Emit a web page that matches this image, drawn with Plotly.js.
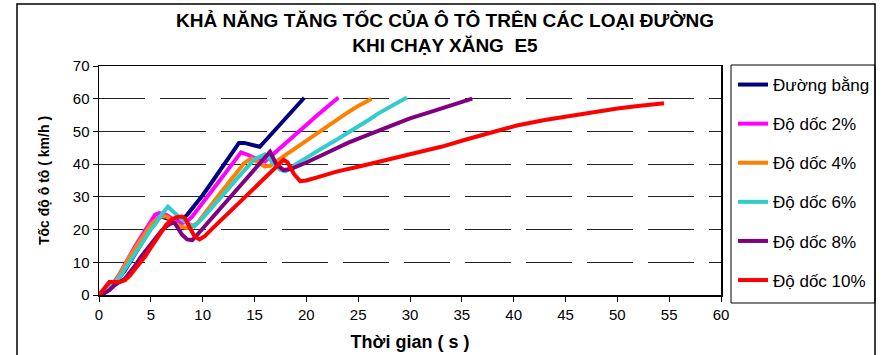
<!DOCTYPE html>
<html>
<head>
<meta charset="utf-8">
<script src="https://cdn.plot.ly/plotly-3.0.1.min.js"></script>
<style>html,body{margin:0;padding:0;background:#fff;}#chart{width:888px;height:355px;}</style>
</head>
<body>
<div id="chart"></div>
<script>
// ---- Data ----
const seriesNames = ["Đường bằng", "Độ dốc 2%", "Độ dốc 4%", "Độ dốc 6%", "Độ dốc 8%", "Độ dốc 10%"];
const seriesColors = ["#000080", "#FF00FF", "#FF8000", "#33CCCC", "#800080", "#FF0000"];

const flatT = [0,0.5,1,1.5,2,2.5,3,3.5,4,4.5,5,5.5,6,6.5,7,7.5,8,8.5,9,10,11,12,13,13.5,14,15,15.5,16,17,18,19,19.8];
const flatV = [0,1,2.5,4,5.5,7.5,10,12.5,15,18,20.5,23,24,23.5,23,22.5,23,24.5,26.5,30.5,35,39.5,44,46.5,46.5,45.5,45.3,47,50.5,54,57.5,60.3];

const g2T = [0,0.5,1,1.5,2,2.5,3,3.5,4,4.5,5,5.4,5.8,6.5,7,7.5,8,8.5,9,10,11,12,13,13.7,14.4,15.2,16,17,18,19,20,21,22,23.1];
const g2V = [0,1,2.5,4,6.5,9.5,12.5,15,17.5,20,22.5,24.5,25,24.5,23.5,22.5,22,22.5,24,28,32.3,36.5,40.8,43.6,42.8,41.6,40.8,43.5,46.3,49.2,52,54.8,57.6,60.4];

const g4T = [0,0.5,1,1.5,2,2.5,3,3.5,4,4.5,5,5.5,6,6.5,7,7.5,8,8.5,9,9.5,10,11,12,13,14,14.7,15.3,16,16.5,17,18,19,20,21,22,23,24,25,26.3];
const g4V = [0,1,2,3.5,6,9,12,14.5,17,19.5,21.5,23,24,24,23,21.5,20.8,20.5,21,22,24.2,28.3,32.3,36.3,40.3,41.8,40.5,39.3,39.5,40.5,42.8,45,47.2,49.4,51.6,53.8,55.8,57.8,60];

const g6T = [0,0.5,1,1.5,2,2.5,3,3.5,4,4.5,5,5.5,6,6.65,7,7.5,8,8.5,9.2,10,11,12,13,14,15,16,16.5,17,17.5,18,19,20,21,22,23,24,25,26,27,28,29,29.7];
const g6V = [0,0.8,2,3.5,5.5,8,10.5,13,15.5,18,20,22,24.5,27,26,24.5,23,22,21,23.5,27.2,30.8,34.5,38,41.5,43,41.5,39.5,38.3,37.8,40,42,44,45.8,47.6,49.5,51.4,53.5,55.6,57.4,59.2,60.4];

const g8T = [0,0.5,1,1.5,2,2.5,3,3.5,4,4.5,5,5.5,6,6.5,7,7.3,7.6,8,8.5,9,9.5,10,11,12,13,14,15,16,16.5,17.1,17.8,18.5,19.5,20,22,24,26,28,30,32,34,36];
const g8V = [0,0.5,1.5,3,4,5,7,9,11.5,13.5,15.5,17.5,19.5,21,22,22,20.5,18.5,17,16.8,18.5,20.3,23.8,27.4,31,34.6,38.2,41.8,43.8,40,38.2,38.5,39.8,40.5,43.5,46.5,49,51.5,54,56,58,60];

const g10T = [0,0.5,1,1.5,2,2.5,3,3.5,4,4.5,5,5.5,6,6.5,7,7.5,8,8.3,8.7,9.2,9.7,10.2,11,12,13,14,15,16,17,17.8,18.2,18.8,19.4,20,21.3,23,25,27,30,33,35.5,38,40.3,43,46.7,50,52,54.5];
const g10V = [0,2,4,4,4,4.5,6,8,10,12,14.5,17,19.5,21.5,23,23.8,24,23.5,21,18,17,18,20.5,23.6,26.6,29.7,32.8,35.8,38.9,41.3,40.5,37,34.8,35,36.2,37.8,39.2,40.7,42.9,45.3,47.6,49.9,51.8,53.5,55.5,57,57.8,58.6];

const seriesT = [flatT, g2T, g4T, g6T, g8T, g10T];
const seriesV = [flatV, g2V, g4V, g6V, g8V, g10V];

const xTicks = [0,5,10,15,20,25,30,35,40,45,50,55,60];
const yTicks = [0,10,20,30,40,50,60,70];

const titleText = "<b>KHẢ NĂNG TĂNG TỐC CỦA Ô TÔ TRÊN CÁC LOẠI ĐƯỜNG<br>KHI CHẠY XĂNG  E5</b>";
const xTitle = "<b>Thời gian ( s )</b>";
const yTitle = "<b>Tốc độ ô tô ( km/h )</b>";

// ---- Build traces ----
const traces = seriesNames.map((name, i) => ({
  type: "scatter",
  mode: "lines",
  name: name,
  x: seriesT[i],
  y: seriesV[i],
  line: { color: seriesColors[i], width: 4 },
  legendgroup: "g" + i
}));

// plot area pixels: x 99..721, y 66..295
const L = 99, R = 721, T = 66, B = 295;
const px = v => (v - L) / (R - L);
const py = v => (B - v) / (B - T);

const font = "Liberation Sans, Arial, sans-serif";

const layout = {
  width: 888, height: 355,
  margin: { l: L, r: 888 - R, t: T, b: 355 - B, pad: 0 },
  paper_bgcolor: "#ffffff",
  plot_bgcolor: "#ffffff",
  font: { family: font, color: "#000", size: 15 },
  xaxis: {
    range: [0, 60],
    tickvals: xTicks,
    ticktext: xTicks.map(String),
    ticks: "outside", ticklen: 5, tickcolor: "#000", tickwidth: 1,
    showline: true, linecolor: "#000", linewidth: 1.5, mirror: true,
    showgrid: false, zeroline: false,
    tickfont: { family: font, size: 15 },
    title: { text: xTitle, font: { family: font, size: 18 }, standoff: 14 }
  },
  yaxis: {
    range: [0, 70],
    tickvals: yTicks,
    ticktext: yTicks.map(String),
    ticks: "outside", ticklen: 5, tickcolor: "#000", tickwidth: 1,
    showline: true, linecolor: "#000", linewidth: 1.5, mirror: true,
    showgrid: true, gridcolor: "#222", gridwidth: 1, griddash: "46px,15px",
    zeroline: false,
    tickfont: { family: font, size: 15 },
    title: { text: yTitle, font: { family: font, size: 14 }, standoff: 20 }
  },
  showlegend: true,
  legend: {
    x: px(733), xanchor: "left",
    y: py(67), yanchor: "top",
    bgcolor: "rgba(0,0,0,0)", borderwidth: 0,
    font: { family: font, size: 17, color: "#000" },
    tracegroupgap: 14,
    itemwidth: 30
  },
  annotations: [
    { text: titleText, xref: "paper", yref: "paper",
      x: px(445), y: py(33.5), xanchor: "center", yanchor: "middle",
      showarrow: false, align: "center",
      font: { family: font, size: 19, color: "#000" } }
  ],
  shapes: [
    { type: "rect", xref: "paper", yref: "paper",
      x0: px(17), x1: px(875), y0: py(365), y1: py(4),
      line: { color: "#000", width: 1.5 }, fillcolor: "rgba(0,0,0,0)", layer: "below" },
    { type: "rect", xref: "paper", yref: "paper",
      x0: px(731), x1: px(875), y0: py(303), y1: py(65),
      line: { color: "#000", width: 1 }, fillcolor: "rgba(0,0,0,0)", layer: "below" }
  ]
};

Plotly.newPlot("chart", traces, layout, { displayModeBar: false, staticPlot: true });
</script>
</body>
</html>
